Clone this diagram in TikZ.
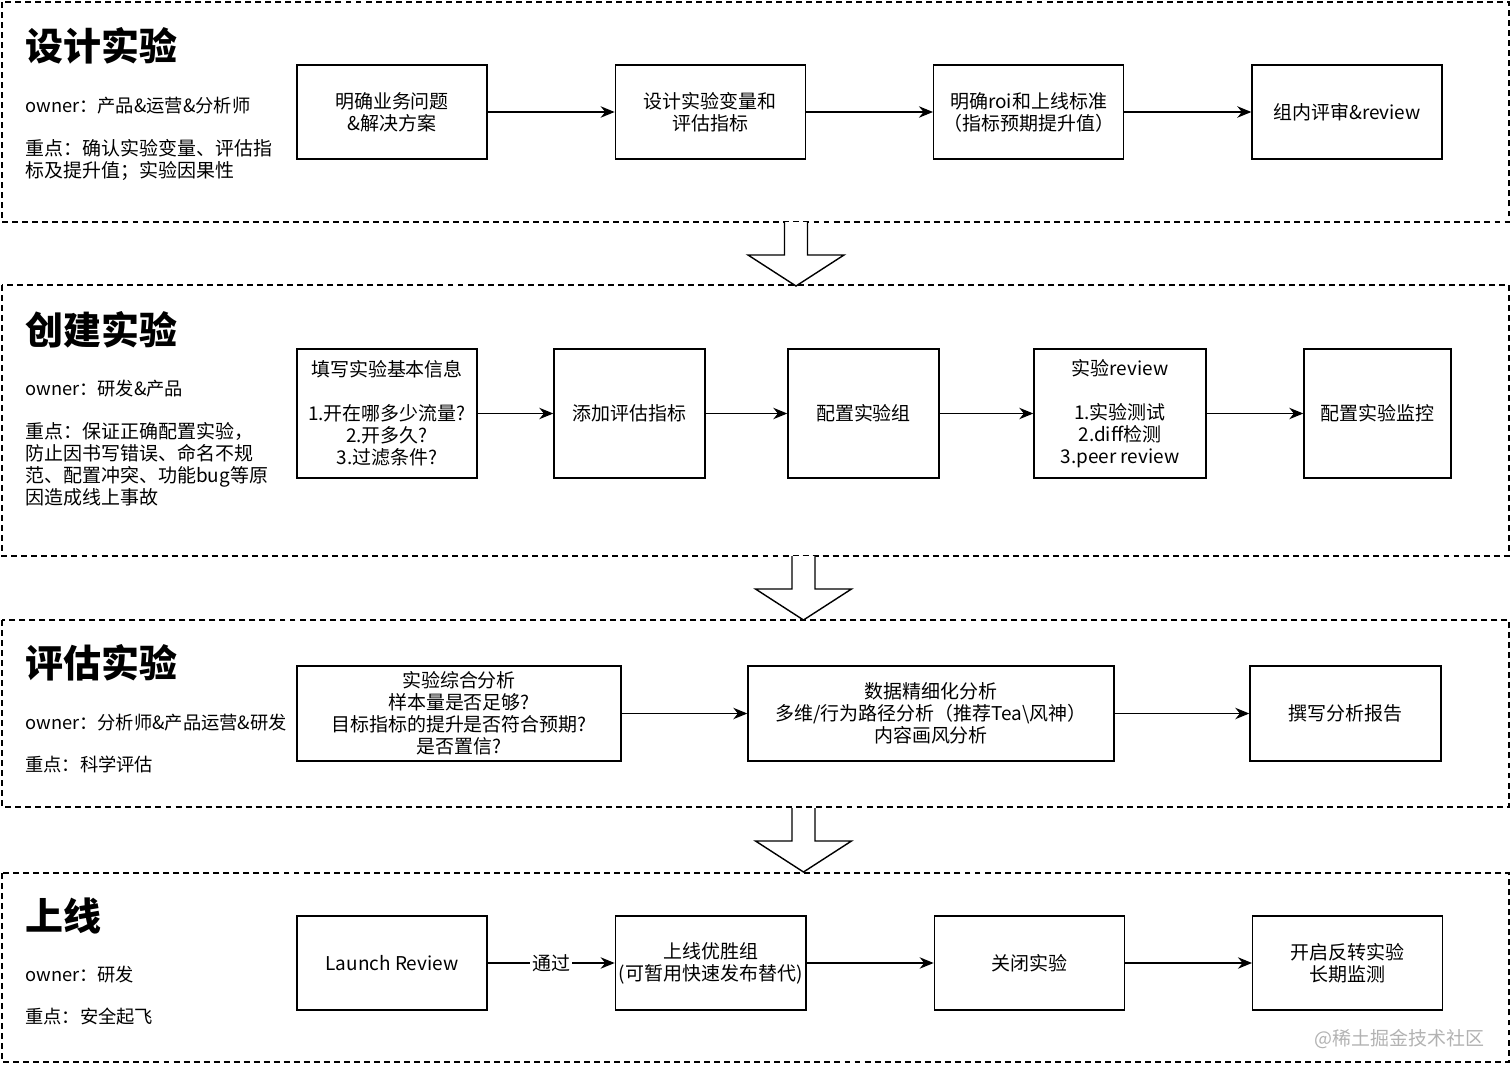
\documentclass[tikz,border=0pt]{standalone}
\usepackage{fontspec}
\setmainfont{Noto Sans CJK SC}
\usetikzlibrary{arrows.meta, positioning}

\begin{document}
\begin{tikzpicture}[x=0.02cm, y=-0.02cm, font=\fontsize{10.8pt}{12.5pt}\selectfont,
    box/.style={draw, line width=0.8pt, align=center, inner sep=2pt},
    stdbox/.style={box, minimum width=3.8cm, minimum height=1.88cm},
    stage/.style={draw, line width=0.8pt, dash pattern=on 3.4pt off 2.3pt},
    stagetitle/.style={anchor=west, inner sep=0pt, font=\fontsize{21.6pt}{25pt}\selectfont\bfseries},
    info/.style={anchor=north west, align=left, inner sep=0pt},
    owner/.style={anchor=west, inner sep=0pt, font=\fontsize{10.4pt}{12.5pt}\selectfont},
    flow/.style={-{Stealth[length=8pt, width=6.5pt]}, line width=0.8pt}]
    \useasboundingbox (0,0) rectangle (1512,1078);

    % 阶段外框
    \draw[stage] (2,2) rectangle (1509,222);
    \draw[stage] (2,285) rectangle (1509,556);
    \draw[stage] (2,620) rectangle (1509,807);
    \draw[stage] (2,873) rectangle (1509,1062);

    % 阶段之间的大箭头
    \foreach \ax/\ay in {796/222, 803.5/556, 803.5/808} {
        \draw[line width=0.8pt, fill=white] (\ax-11.5,\ay) -- (\ax-11.5,\ay+33) -- (\ax-48,\ay+33)
            -- (\ax,\ay+64) -- (\ax+48,\ay+33) -- (\ax+11.5,\ay+33) -- (\ax+11.5,\ay);
    }

    % 设计实验
    \node[stagetitle] (t1) at (25,46) {设计实验};
    \node[owner] (o1) at (25,106) {owner：产品\&运营\&分析师};
    \node[info] (k1) at (25,139) {重点：确认实验变量、评估指\\标及提升值；实验因果性};
    \node[stdbox] (B1) at (392,112) {明确业务问题\\\&解决方案};
    \node[stdbox, right=2.54cm of B1] (B2) {设计实验变量和\\评估指标};
    \node[stdbox, right=2.54cm of B2] (B3) {明确roi和上线标准\\（指标预期提升值）};
    \node[stdbox, right=2.54cm of B3] (B4) {组内评审\&review};
    \draw[flow] (B1) -- (B2);
    \draw[flow] (B2) -- (B3);
    \draw[flow] (B3) -- (B4);

    % 创建实验
    \node[stagetitle] (t2) at (25,330) {创建实验};
    \node[owner] (o2) at (25,389) {owner：研发\&产品};
    \node[info] (k2) at (25,422) {重点：保证正确配置实验，\\防止因书写错误、命名不规\\范、配置冲突、功能bug等原\\因造成线上事故};
    \node[box, minimum width=3.6cm, minimum height=2.58cm] (C1) at (387,413.5)
        {填写实验基本信息\\~\\1.开在哪多少流量?\\2.开多久?\\3.过滤条件?};
    \node[box, minimum width=3.02cm, minimum height=2.58cm] (C2) at (629.5,413.5) {添加评估指标};
    \node[box, minimum width=3.02cm, minimum height=2.58cm] (C3) at (863.5,413.5) {配置实验组};
    \node[box, minimum width=3.44cm, minimum height=2.58cm] (C4) at (1120,413.5)
        {实验review\\~\\1.实验测试\\2.diff检测\\3.peer review};
    \node[box, minimum width=2.94cm, minimum height=2.58cm] (C5) at (1377.5,413.5) {配置实验监控};
    \draw[flow] (C1) -- (C2);
    \draw[flow] (C2) -- (C3);
    \draw[flow] (C3) -- (C4);
    \draw[flow] (C4) -- (C5);

    % 评估实验
    \node[stagetitle] (t3) at (25,663) {评估实验};
    \node[owner] (o3) at (25,723) {owner：分析师\&产品运营\&研发};
    \node[owner] (k3) at (25,764) {重点：科学评估};
    \node[box, minimum width=6.48cm, minimum height=1.9cm] (D1) at (459,713.5)
        {实验综合分析\\样本量是否足够?\\目标指标的提升是否符合预期?\\是否置信?};
    \node[box, minimum width=7.32cm, minimum height=1.9cm] (D2) at (931,713.5)
        {数据精细化分析\\多维/行为路径分析（推荐Tea\textbackslash 风神）\\内容画风分析};
    \node[box, minimum width=3.82cm, minimum height=1.9cm] (D3) at (1345.5,713.5) {撰写分析报告};
    \draw[flow] (D1) -- (D2);
    \draw[flow] (D2) -- (D3);

    % 上线
    \node[stagetitle] (t4) at (25,916) {上线};
    \node[owner] (o4) at (25,975) {owner：研发};
    \node[owner] (k4) at (25,1017) {重点：安全起飞};
    \node[stdbox] (E1) at (392,963) {Launch Review};
    \node[stdbox, right=2.54cm of E1] (E2) {上线优胜组\\(可暂用快速发布替代)};
    \node[stdbox, right=2.54cm of E2] (E3) {关闭实验};
    \node[stdbox, right=2.54cm of E3] (E4) {开启反转实验\\长期监测};
    \draw[flow] (E1) -- node[fill=white, inner sep=1pt] (pass) {通过} (E2);
    \draw[flow] (E2) -- (E3);
    \draw[flow] (E3) -- (E4);

    % 水印
    \node[text=gray!60, anchor=east, inner sep=0pt] (wm) at (1485,1039) {@稀土掘金技术社区};
\end{tikzpicture}
\end{document}
